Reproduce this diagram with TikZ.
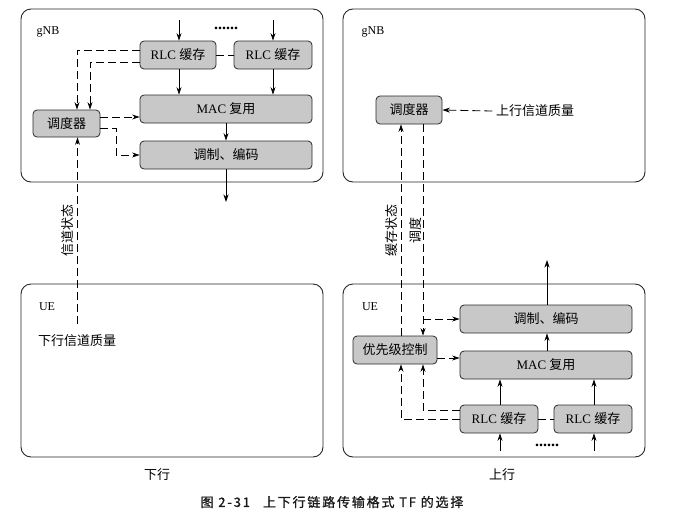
\documentclass[tikz,border=0pt]{standalone}
\usepackage{fontspec}
\setmainfont{Liberation Serif}
\newfontfamily\cjk{Noto Sans CJK SC}
\newfontfamily\capfont{Noto Sans CJK SC}[LetterSpace=14, FakeBold=1]
\usetikzlibrary{arrows.meta, positioning}
\definecolor{blockgray}{HTML}{C8C8C8}
\definecolor{framegray}{HTML}{2B2B2B}

\begin{document}
\begin{tikzpicture}[x=1pt, y=-1pt, >={Stealth[length=7.5pt,width=5pt]},
  font=\fontsize{13}{15}\selectfont,
  procbox/.style={draw=framegray, fill=blockgray, rounded corners=4pt,
    minimum height=28pt, inner sep=0pt, line width=0.8pt},
  entitybox/.style={draw=black!85, rounded corners=10pt, line width=0.9pt},
  cjklabel/.style={font=\cjk\fontsize{13}{15}\selectfont},
  dotrow/.style={font=\bfseries\fontsize{16}{18}\selectfont, anchor=base, inner sep=0pt},
  solidarrow/.style={->, line width=0.8pt},
  dasharrow/.style={->, dash pattern=on 8pt off 4pt, line width=0.8pt},
  dashline/.style={dash pattern=on 8pt off 4pt, line width=0.8pt}]
  \useasboundingbox (0,0) rectangle (673,515);

  % Frames of the four entities
  \draw[entitybox] (21,9) rectangle (323,182);
  \draw[entitybox] (343,9) rectangle (645,182);
  \draw[entitybox] (21,284) rectangle (323,457);
  \draw[entitybox] (343,284) rectangle (645,457);
  \node[font=\fontsize{12}{14}\selectfont] (gnbA) at (48,32) {gNB};
  \node[font=\fontsize{12}{14}\selectfont] (gnbB) at (373,32) {gNB};
  \node[font=\fontsize{12}{14}\selectfont] (ueA) at (47,307) {UE};
  \node[font=\fontsize{12}{14}\selectfont] (ueB) at (370,307) {UE};

  % Downlink
  \node[procbox, minimum width=76pt] (rlcA) at (178,55) {RLC \cjk 缓存};
  \node[procbox, minimum width=78pt] (rlcB) at (273,55) {RLC \cjk 缓存};
  \node[procbox, minimum width=172pt] (macA) at (226,109) {MAC \cjk 复用};
  \node[procbox, minimum width=172pt] (modA) at (226,155) {\cjk 调制、编码};
  \node[procbox, minimum width=67pt, minimum height=27pt] (schdA) at (66.5,123.5) {\cjk 调度器};
  \node[dotrow] (dotsA) at (226,29) {......};
  \node[cjklabel] (dlq) at (77,341) {下行信道质量};
  \coordinate (inA) at (179,20);
  \coordinate (inB) at (273,20);
  \coordinate (outA) at (226,202);

  \draw[solidarrow] (inA) -- (inA |- rlcA.north);
  \draw[solidarrow] (inB) -- (inB |- rlcB.north);
  \draw[solidarrow] (rlcA.south -| inA) -- (macA.north -| inA);
  \draw[solidarrow] (rlcB.south -| inB) -- (macA.north -| inB);
  \draw[solidarrow] (macA.south) -- (modA.north);
  \draw[solidarrow] (modA.south) -- (outA);
  \draw[dashline] (rlcA.east) -- (rlcB.west);
  \draw[dasharrow] ([yshift=5pt]rlcA.west) -| ([xshift=10.5pt]schdA.north);
  \draw[dasharrow] ([yshift=-7pt]rlcA.west) -| ([xshift=23.5pt]schdA.north);
  \draw[dasharrow] ([yshift=6.5pt]schdA.east) -- ([yshift=6.5pt]schdA.east -| macA.west);
  \draw[dasharrow] ([yshift=-4.5pt]schdA.east) -- ++(16,0) |- (modA.west);
  \draw[dasharrow] ([yshift=7pt,xshift=0.5pt]dlq.north) -- ([xshift=0.5pt]dlq.north |- schdA.south)
    node[midway, rotate=90, anchor=south, inner sep=4pt, cjklabel] {信道状态};

  % Uplink
  \node[procbox, minimum width=66pt] (schdB) at (409,110) {\cjk 调度器};
  \node[cjklabel] (ulq) at (535,111) {上行信道质量};
  \node[procbox, minimum width=172pt] (modB) at (546,319) {\cjk 调制、编码};
  \node[procbox, minimum width=172pt] (macB) at (546,365) {MAC \cjk 复用};
  \node[procbox, minimum width=84pt] (prio) at (395,350) {\cjk 优先级控制};
  \node[procbox, minimum width=78pt] (rlcC) at (499,419) {RLC \cjk 缓存};
  \node[procbox, minimum width=78pt] (rlcD) at (593,419) {RLC \cjk 缓存};
  \node[dotrow] (dotsB) at (547,446) {......};
  \coordinate (outB) at (547,260);
  \coordinate (inC) at (500,451);
  \coordinate (inD) at (594,451);

  \draw[dasharrow] (ulq.west) -- (schdB.east);
  \draw[solidarrow] (modB.north -| outB) -- (outB);
  \draw[solidarrow] (macB.north -| outB) -- (modB.south -| outB);
  \draw[solidarrow] (rlcC.north -| inC) -- (macB.south -| inC);
  \draw[solidarrow] (rlcD.north -| inD) -- (macB.south -| inD);
  \draw[solidarrow] (inC) -- (rlcC.south -| inC);
  \draw[solidarrow] (inD) -- (rlcD.south -| inD);
  \draw[dashline] (rlcC.east) -- (rlcD.west);
  \draw[dasharrow] ([yshift=-8pt]prio.east) -- ([yshift=-8pt]prio.east -| macB.west);
  \draw[dasharrow] ([yshift=9pt]rlcC.west) -| ([xshift=28pt]prio.south);
  \draw[dasharrow] (rlcC.west) -| ([xshift=6pt]prio.south);
  \draw[dasharrow] ([xshift=6pt]prio.north) -- ([xshift=6pt]prio.north |- schdB.south)
    node[midway, rotate=90, anchor=south, inner sep=3.5pt, cjklabel] {缓存状态};
  \draw[dasharrow] ([xshift=14pt]schdB.south) -- ([xshift=14pt]schdB.south |- prio.north)
    node[midway, rotate=90, anchor=south, inner sep=1pt, cjklabel] {调度};
  \draw[dasharrow] ([xshift=14pt]schdB.south |- modB.west) -- (modB.west);

  % Captions
  \node[cjklabel] (dlcap) at (157,475) {下行};
  \node[cjklabel] (ulcap) at (502,475) {上行};
  \node[font=\capfont\fontsize{13}{15}\selectfont, text=black!90] (figcap) at (332,502)
    {图 2-31\quad 上下行链路传输格式 TF 的选择};
\end{tikzpicture}
\end{document}
